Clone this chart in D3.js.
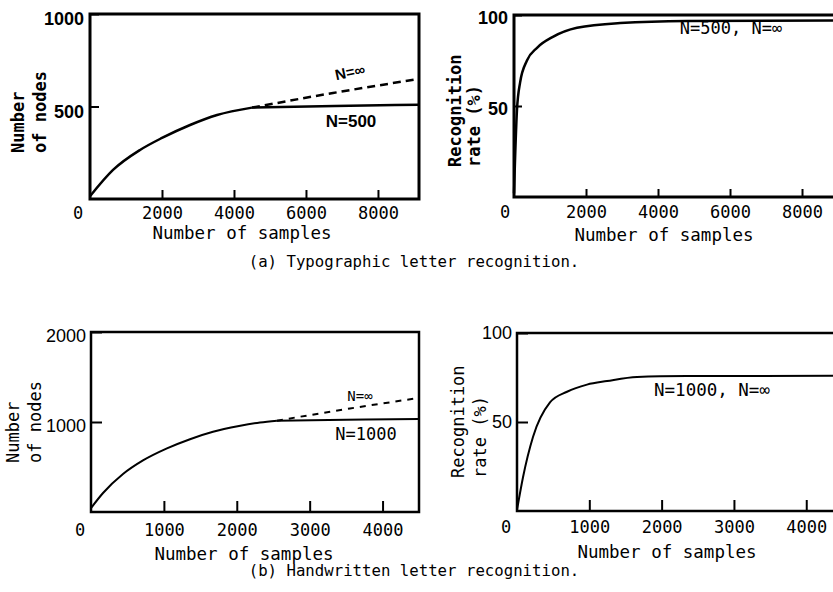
<!DOCTYPE html>
<html>
<head>
<meta charset="utf-8">
<script src="https://cdn.jsdelivr.net/npm/d3@7"></script>
<style>
  body { margin: 0; background: #fff; }
  svg { display: block; }
</style>
</head>
<body>
<svg></svg>
<script>
// (a) Typographic letters: number of nodes vs. number of samples
const typoSamples = [0, 640, 1390, 2000, 2780, 3530, 4500];
const typoNodes = [15, 157, 265, 330, 400, 454, 494];
const typoCapSamples = [4500, 6800, 9140];        // N=500
const typoCapNodes = [494, 503, 510];
const typoFreeSamples = [4500, 6750, 9140];       // N=inf
const typoFreeNodes = [494, 573, 649];

// (a) recognition rate
const typoRateSamples = [0, 83, 170, 360, 640, 1080, 1750, 2950, 4800, 9300];
const typoRate = [2, 48, 63, 75, 82, 88, 93, 95.6, 96.7, 97];

// (b) Handwritten letters: number of nodes
const handSamples = [0, 165, 439, 713, 1042, 1358, 1674, 2030, 2318, 2551];
const handNodes = [44, 211, 422, 573, 707, 809, 891, 955, 995, 1015];
const handCapSamples = [2551, 3500, 4500];        // N=1000
const handCapNodes = [1015, 1025, 1033];
const handFreeSamples = [2551, 3553, 4500];       // N=inf
const handFreeNodes = [1015, 1150, 1267];

// (b) recognition rate
const handRateSamples = [0, 83, 221, 456, 692, 968, 1245, 1660, 2351, 4600];
const handRate = [0.6, 19, 41.6, 61, 67, 71, 73, 75.3, 75.8, 76];

// ticks
const typoSampleTicks = [2000, 4000, 6000, 8000];
const handSampleTicks = [1000, 2000, 3000, 4000];
const typoNodeTicks = [500, 1000];
const handNodeTicks = [1000, 2000];
const rateTicks = [50, 100];

// texts
const xTitle = "Number of samples";
const nodesTitle = ["Number", "of nodes"];
const rateTitle = ["Recognition", "rate (%)"];
const captions = ["(a) Typographic letter recognition.", "(b) Handwritten letter recognition."];

const svg = d3.select("svg")
    .attr("width", 833)
    .attr("height", 592);

const mono = "'DejaVu Sans Mono', 'Liberation Mono', monospace";
const sans = "'Liberation Sans', Arial, sans-serif";

const panels = [
  {
    left: 90, right: 419, top: 14, bottom: 199, xMax: 9140, yMax: 1000,
    frame: 3, stroke: 2.5, tickLen: 9, xPad: 8, yPad: 6, yShift: 5, zeroDx: -12,
    xTicks: typoSampleTicks, yTicks: typoNodeTicks, yFont: sans, yWeight: "bold",
    xTitlePos: [242, 233], yTitle: nodesTitle, yTitleX: [18, 40], yTitleStart: 153, titleWeight: "bold",
    lines: [
      { xs: typoSamples, ys: typoNodes },
      { xs: typoCapSamples, ys: typoCapNodes },
      { xs: typoFreeSamples, ys: typoFreeNodes, dash: "8,5" }
    ],
    notes: [
      { text: "N=∞", x: 350, y: 72, font: sans, size: 15, weight: "bold", rotate: -12 },
      { text: "N=500", x: 351, y: 121, font: sans, size: 17, weight: "bold" }
    ]
  },
  {
    left: 514, right: 850, top: 15, bottom: 197, xMax: 9333, yMax: 100,
    frame: 3, stroke: 2.5, tickLen: 8, xPad: 9, yPad: 6, yShift: 3, zeroDx: -9,
    xTicks: typoSampleTicks, yTicks: rateTicks, yFont: sans, yWeight: "bold",
    xTitlePos: [664, 235], yTitle: rateTitle, yTitleX: [455, 474], yTitleStart: 167, titleWeight: "bold",
    lines: [{ xs: typoRateSamples, ys: typoRate }],
    notes: [{ text: "N=500, N=∞", x: 731, y: 28, font: mono, size: 17, weight: "normal" }]
  },
  {
    left: 91, right: 419, top: 332, bottom: 512, xMax: 4500, yMax: 2000,
    frame: 2.5, stroke: 2, tickLen: 11, xPad: 12, yPad: 5, yShift: 4, zeroDx: -11,
    xTicks: handSampleTicks, yTicks: handNodeTicks, yFont: sans, yWeight: "normal",
    xTitlePos: [244, 554], yTitle: nodesTitle, yTitleX: [13, 35], yTitleStart: 463, titleWeight: "normal",
    lines: [
      { xs: handSamples, ys: handNodes },
      { xs: handCapSamples, ys: handCapNodes },
      { xs: handFreeSamples, ys: handFreeNodes, dash: "6,6" }
    ],
    notes: [
      { text: "N=∞", x: 360, y: 396, font: mono, size: 14, weight: "normal" },
      { text: "N=1000", x: 366, y: 434, font: mono, size: 17, weight: "normal" }
    ]
  },
  {
    left: 517, right: 850, top: 333, bottom: 511, xMax: 4605, yMax: 100,
    frame: 2.5, stroke: 2, tickLen: 11, xPad: 10, yPad: 5, yShift: 0, zeroDx: -11,
    xTicks: handSampleTicks, yTicks: rateTicks, yFont: sans, yWeight: "normal",
    xTitlePos: [667, 552], yTitle: rateTitle, yTitleX: [458, 480], yTitleStart: 478, titleWeight: "normal",
    lines: [{ xs: handRateSamples, ys: handRate }],
    notes: [{ text: "N=1000, N=∞", x: 712, y: 390, font: mono, size: 17.5, weight: "normal" }]
  }
];

function drawPanel(p) {
  const x = d3.scaleLinear().domain([0, p.xMax]).range([p.left, p.right]);
  const y = d3.scaleLinear().domain([0, p.yMax]).range([p.bottom, p.top]);
  const g = svg.append("g");

  // kehys
  g.append("rect")
    .attr("x", p.left).attr("y", p.top)
    .attr("width", p.right - p.left).attr("height", p.bottom - p.top)
    .attr("fill", "none").attr("stroke", "#000").attr("stroke-width", p.frame);

  // x-akseli, tikit sisäänpäin
  const xg = g.append("g")
    .attr("transform", `translate(0, ${p.bottom})`)
    .call(d3.axisBottom(x).tickValues(p.xTicks).tickFormat(d3.format("d"))
      .tickSizeInner(-p.tickLen).tickSizeOuter(0).tickPadding(p.xPad));
  xg.select(".domain").remove();
  xg.selectAll("line").attr("stroke", "#000").attr("stroke-width", 2);
  xg.selectAll("text")
    .attr("fill", "#000").attr("font-family", mono).attr("font-size", 17);

  // origon nolla
  g.append("text")
    .attr("x", x(0) + p.zeroDx).attr("y", p.bottom + p.xPad).attr("dy", "0.71em")
    .attr("text-anchor", "middle").attr("font-family", mono).attr("font-size", 17)
    .text("0");

  // y-akseli
  const yg = g.append("g")
    .attr("transform", `translate(${p.left}, 0)`)
    .call(d3.axisLeft(y).tickValues(p.yTicks).tickFormat(d3.format("d"))
      .tickSizeInner(-p.tickLen).tickSizeOuter(0).tickPadding(p.yPad));
  yg.select(".domain").remove();
  yg.selectAll("line").attr("stroke", "#000").attr("stroke-width", 2);
  yg.selectAll("text")
    .attr("fill", "#000").attr("font-family", p.yFont).attr("font-size", 18)
    .attr("font-weight", p.yWeight)
    .attr("transform", `translate(0, ${p.yShift})`);

  // käyrät
  const line = d3.line()
    .x(d => x(d[0]))
    .y(d => y(d[1]))
    .curve(d3.curveMonotoneX);

  p.lines.forEach(l => {
    g.append("path")
      .datum(d3.zip(l.xs, l.ys))
      .attr("d", line)
      .attr("fill", "none").attr("stroke", "#000")
      .attr("stroke-width", p.stroke)
      .attr("stroke-dasharray", l.dash || null);
  });

  // akselien otsikot
  g.append("text")
    .attr("x", p.xTitlePos[0]).attr("y", p.xTitlePos[1]).attr("dy", "0.35em")
    .attr("text-anchor", "middle").attr("font-family", mono).attr("font-size", 17.5)
    .text(xTitle);

  p.yTitle.forEach((t, i) => {
    g.append("text")
      .attr("transform", `translate(${p.yTitleX[i]}, ${p.yTitleStart}) rotate(-90)`)
      .attr("dy", "0.35em").attr("text-anchor", "start")
      .attr("font-family", mono).attr("font-size", 17).attr("font-weight", p.titleWeight)
      .text(t);
  });

  // merkinnät
  p.notes.forEach(n => {
    g.append("text")
      .attr("transform", `translate(${n.x}, ${n.y}) rotate(${n.rotate || 0})`)
      .attr("dy", "0.35em").attr("text-anchor", "middle")
      .attr("font-family", n.font).attr("font-size", n.size).attr("font-weight", n.weight)
      .text(n.text);
  });
}

panels.forEach(drawPanel);

// kuvatekstit
svg.selectAll("text.caption")
  .data(captions)
  .enter()
  .append("text")
  .attr("class", "caption")
  .attr("x", 414)
  .attr("y", (d, i) => [262, 571][i])
  .attr("dy", "0.35em")
  .attr("text-anchor", "middle")
  .attr("font-family", mono)
  .attr("font-size", 15.7)
  .text(d => d);
</script>
</body>
</html>
